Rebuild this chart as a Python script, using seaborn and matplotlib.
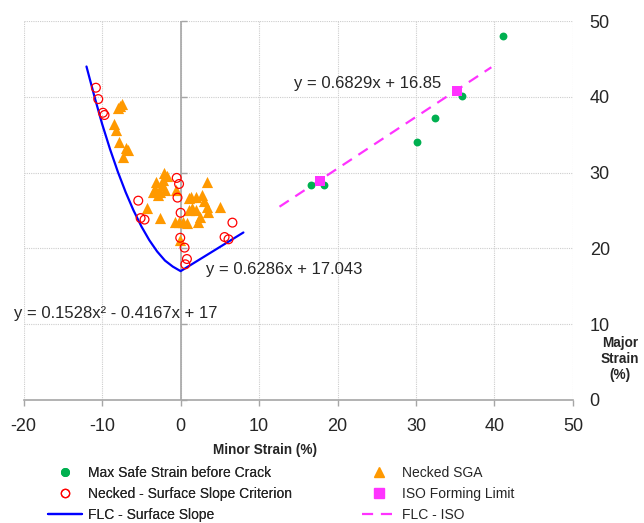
import matplotlib
matplotlib.use("Agg")
import matplotlib.pyplot as plt
from matplotlib.lines import Line2D
import seaborn as sns
import pandas as pd

# Datos (Minor / Major strain en %)
safe_x = [16.6, 18.3, 30.1, 32.4, 35.8, 41.1]
safe_y = [28.3, 28.4, 34.0, 37.2, 40.1, 48.0]

slope_x = [-10.8, -10.5, -9.9, -9.7, -5.4, -5.1, -4.6, -0.5, -0.2, -0.4, 0.0,
           -0.05, 0.5, 0.8, 0.6, 6.6, 5.6, 6.1]
slope_y = [41.2, 39.7, 37.9, 37.6, 26.3, 24.0, 23.8, 29.3, 28.5, 26.7, 24.7,
           21.4, 20.1, 18.6, 17.9, 23.4, 21.5, 21.2]

sga_x = [-7.7, -7.5, -8.0, -8.5, -8.3, -7.8, -6.9, -6.7, -7.4,
         -2.1, -1.8, -3.1, -2.4, -3.3, -2.6, -2.0, -2.9, -0.6, -4.3, -2.6,
         -0.7, -0.2, 0.3, -0.1, 1.1, 1.1, 3.3, 1.3, 2.0, 2.7, 3.0, 3.3,
         3.5, 5.0, 1.4, 2.0, 2.5, 2.2, 0.8, -2.3, -3.5]
sga_y = [38.8, 39.1, 38.5, 36.4, 35.6, 34.1, 33.2, 33.0, 32.0,
         29.9, 29.5, 28.8, 28.4, 27.9, 27.5, 27.7, 27.0, 27.7, 25.3, 24.0,
         23.5, 23.5, 23.5, 21.1, 26.6, 25.1, 28.8, 26.8, 26.8, 27.0, 26.2, 25.5,
         24.8, 25.5, 25.3, 25.1, 24.2, 23.5, 23.3, 29.0, 27.4]

iso_x = [17.7, 35.2]
iso_y = [28.9, 40.8]

flc_ss_x = [-12, -11, -10, -9, -8, -7, -6, -5, -4, -3, -2, -1, 0, 8]
flc_ss_y = [44.0, 40.1, 36.4, 33.1, 30.1, 27.4, 25.0, 22.9, 21.1, 19.6, 18.4, 17.6, 17.0, 22.1]

flc_iso_x = [12.6, 39.6]
flc_iso_y = [25.5, 43.9]

eq_iso = "y = 0.6829x + 16.85"
eq_lin = "y = 0.6286x + 17.043"
eq_quad = "y = 0.1528x² - 0.4167x + 17"

x_ticks = [-20, -10, 0, 10, 20, 30, 40, 50]
y_ticks = [0, 10, 20, 30, 40, 50]

verde = "#00B050"
naranja = "#FF9900"
rojo = "#FF0000"
magenta = "#FF33FF"
azul = "#0000FF"
gris = "#A6A6A6"

sns.set_theme(style="white")
plt.rcParams["font.family"] = ["Liberation Sans", "DejaVu Sans"]
plt.rcParams["axes.unicode_minus"] = False

fig, ax = plt.subplots(figsize=(6.44, 5.23), dpi=100)
fig.subplots_adjust(left=0.0368, right=0.8897, top=0.9598, bottom=0.2352)

ax.set_xlim(-20, 50)
ax.set_ylim(0, 50)
ax.set_xticks(x_ticks)
ax.set_yticks(y_ticks)
ax.grid(True, linestyle=(0, (1, 1)), color="#CDCDCD", linewidth=0.8)
ax.set_axisbelow(True)

for s in ["left", "top", "right"]:
    ax.spines[s].set_visible(False)
ax.spines["bottom"].set_color(gris)
ax.spines["bottom"].set_linewidth(1.2)

ax.tick_params(axis="x", direction="out", length=4, width=1, color=gris,
               labelsize=13, pad=9, bottom=True)
ax.yaxis.tick_right()
ax.tick_params(axis="y", length=0, labelsize=13, pad=12, right=False)
for lab in ax.get_yticklabels():
    lab.set_horizontalalignment("left")

# eje vertical en x = 0
ax.axvline(0, color=gris, linewidth=1.2, zorder=1)
ax.plot([0] * len(y_ticks), y_ticks, linestyle="none", marker=1, ms=4,
        mew=1, color=gris, clip_on=False, zorder=1)

# curvas
sns.lineplot(x=flc_ss_x, y=flc_ss_y, sort=False, estimator=None, color=azul,
             linewidth=1.6, ax=ax, zorder=3)
ax.plot(flc_iso_x, flc_iso_y, color=magenta, linewidth=1.6,
        dashes=(5, 3.5), zorder=3)

# puntos
sns.scatterplot(x=sga_x, y=sga_y, marker="^", s=65, color=naranja,
                edgecolor=naranja, linewidth=0, ax=ax, zorder=4)
sns.scatterplot(x=slope_x, y=slope_y, marker="o", s=40, facecolor="none",
                edgecolor=rojo, linewidth=0.9, ax=ax, zorder=5)
sns.scatterplot(x=safe_x, y=safe_y, marker="o", s=32, color=verde,
                edgecolor=verde, linewidth=0, ax=ax, zorder=5)
sns.scatterplot(x=iso_x, y=iso_y, marker="s", s=52, color=magenta,
                edgecolor=magenta, linewidth=0, ax=ax, zorder=6)

# ecuaciones
ax.text(14.5, 41.7, eq_iso, fontsize=12, va="center", ha="left")
ax.text(3.2, 17.2, eq_lin, fontsize=12, va="center", ha="left")
ax.text(-21.2, 11.45, eq_quad, fontsize=12, va="center", ha="left", clip_on=False)

fig.text(265 / 644, 1 - 450 / 523, "Minor Strain (%)", fontsize=9.8,
         fontweight="bold", ha="center", va="center")
fig.text(620 / 644, 1 - 359 / 523, "Major\nStrain\n(%)", fontsize=9.8,
         fontweight="bold", ha="center", va="center", linespacing=1.2)

# leyenda en dos columnas
col1 = [
    Line2D([], [], linestyle="none", marker="o", ms=5.5, color=verde),
    Line2D([], [], linestyle="none", marker="o", ms=6, mfc="none", mec=rojo, mew=0.9),
    Line2D([], [], color=azul, linewidth=1.6),
]
col2 = [
    Line2D([], [], linestyle="none", marker="^", ms=7, color=naranja),
    Line2D([], [], linestyle="none", marker="s", ms=7, color=magenta),
    Line2D([], [], color=magenta, linewidth=1.6, dashes=(5, 3.5)),
]
kw = dict(loc="upper left", frameon=False, fontsize=10, handlelength=2.45,
          handletextpad=0.4, labelspacing=0.5, borderpad=0, borderaxespad=0)
leg1 = fig.legend(col1, ["Max Safe Strain before Crack",
                         "Necked - Surface Slope Criterion",
                         "FLC - Surface Slope"],
                  bbox_to_anchor=(48 / 644, 1 - 466 / 523), **kw)
fig.add_artist(leg1)
fig.legend(col2, ["Necked SGA", "ISO Forming Limit", "FLC - ISO"],
           bbox_to_anchor=(362 / 644, 1 - 466 / 523), **kw)

ax.set_xlabel("")
ax.set_ylabel("")
fig.savefig("out.png", dpi=100)
